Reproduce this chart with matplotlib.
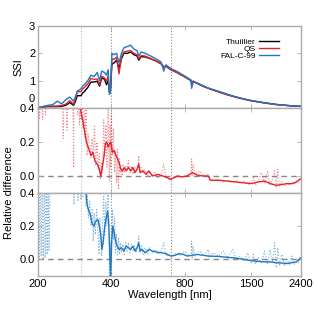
import numpy as np
import matplotlib
matplotlib.use("Agg")
import matplotlib.pyplot as plt
import matplotlib.transforms as mtransforms
from matplotlib.ticker import FixedLocator, NullLocator, FixedFormatter

plt.rcParams['font.family'] = ['Liberation Sans', 'DejaVu Sans']
plt.rcParams['font.size'] = 8

# spectra
wl_ssi = [200, 210, 220, 230, 240, 250, 260, 270, 280, 285, 290, 300, 305, 310, 320,
          330, 340, 350, 358, 365, 375, 382, 388, 393, 397, 402, 410, 420, 430, 440,
          450, 465, 480, 495, 510, 518, 530, 550, 580, 610, 640, 656, 670, 700, 750,
          800, 850, 854, 866, 900, 950, 1000, 1100, 1200, 1300, 1400, 1500, 1600, 1700,
          1800, 1900, 2000, 2100, 2200, 2300, 2400]
thuillier = [0.01, 0.03, 0.05, 0.05, 0.05, 0.06, 0.1, 0.2, 0.1, 0.25, 0.45, 0.45, 0.55, 0.6, 0.75,
             0.95, 0.95, 0.98, 0.8, 1.1, 1.05, 0.85, 1.0, 0.55, 0.7, 1.6, 1.65, 1.75, 1.45, 1.8,
             2.0, 2.0, 2.05, 1.95, 1.9, 1.75, 1.88, 1.87, 1.8, 1.72, 1.62, 1.5, 1.53, 1.42, 1.28,
             1.14, 1.0, 0.85, 0.98, 0.9, 0.8, 0.72, 0.6, 0.49, 0.4, 0.33, 0.27, 0.23, 0.19,
             0.16, 0.13, 0.11, 0.095, 0.08, 0.07, 0.06]
qs = [0.015, 0.04, 0.07, 0.07, 0.07, 0.09, 0.14, 0.27, 0.14, 0.33, 0.6, 0.6, 0.7, 0.75, 0.88,
      1.08, 1.05, 1.06, 0.85, 1.17, 1.1, 0.98, 1.18, 0.62, 0.8, 1.8, 1.78, 1.85, 1.25, 1.85,
      2.05, 2.08, 2.1, 2.0, 1.95, 1.8, 1.92, 1.9, 1.81, 1.72, 1.62, 1.52, 1.52, 1.4, 1.28,
      1.14, 1.01, 0.88, 0.98, 0.9, 0.8, 0.72, 0.585, 0.475, 0.39, 0.32, 0.26, 0.222, 0.184,
      0.153, 0.123, 0.105, 0.091, 0.077, 0.068, 0.059]
falc = [0.02, 0.06, 0.1, 0.12, 0.25, 0.15, 0.3, 0.4, 0.25, 0.42, 0.62, 0.7, 0.8, 0.85, 1.0,
        1.2, 1.15, 1.3, 1.0, 1.35, 1.3, 1.2, 1.4, 0.5, 0.6, 2.0, 1.95, 2.0, 1.65, 2.0,
        2.2, 2.25, 2.3, 2.15, 2.1, 1.9, 2.05, 2.0, 1.9, 1.8, 1.68, 1.35, 1.58, 1.45, 1.32,
        1.17, 1.02, 0.72, 0.95, 0.92, 0.82, 0.73, 0.61, 0.5, 0.4, 0.33, 0.268, 0.228, 0.187,
        0.157, 0.127, 0.108, 0.093, 0.078, 0.069, 0.06]

# relative difference QS - smoothed
wl_qs_sm = [294, 300, 305, 310, 316, 323, 330, 336, 342, 350, 355, 362, 367, 372, 378,
            383, 388, 393, 398, 404, 410, 418, 425, 432, 437, 445, 452, 460, 470, 480,
            490, 500, 510, 518, 525, 540, 555, 570, 590, 620, 650, 680, 700, 720, 750,
            780, 820, 860, 900, 950, 1000, 1020, 1100, 1200, 1300, 1400, 1500, 1600, 1700,
            1800, 1900, 2000, 2100, 2200, 2300, 2400]
qs_sm = [0.45, 0.38, 0.33, 0.27, 0.2, 0.16, 0.12, 0.14, 0.09, 0.07, 0.05, 0.0, 0.05, 0.1, 0.19,
         0.2, 0.17, 0.19, 0.2, 0.14, 0.15, 0.12, 0.1, 0.07, 0.04, 0.03, 0.05, 0.03, 0.05, 0.03,
         0.05, 0.02, 0.04, 0.07, 0.02, 0.03, 0.01, 0.03, 0.0, 0.01, 0.0, -0.01, -0.02, -0.01, 0.0,
         -0.005, 0.0, 0.02, 0.005, 0.0, 0.0, -0.025, -0.025, -0.03, -0.035, -0.04, -0.045, -0.035, -0.03,
         -0.045, -0.055, -0.05, -0.045, -0.045, -0.035, -0.015]

# relative difference QS - full resolution
wl_qs_hr = [200, 203, 206, 209, 212, 215, 220, 230, 240, 250, 254, 256, 260, 263, 266,
            270, 276, 279, 280, 281, 284, 288, 291, 294, 296, 298, 300, 303, 306, 309,
            312, 315, 318, 321, 325, 329, 333, 337, 341, 345, 349, 353, 357, 361, 364,
            368, 372, 376, 380, 384, 388, 391, 393, 395, 397, 400, 404, 408, 412, 416,
            420, 424, 428, 431, 434, 438, 442, 447, 452, 458, 464, 470, 477, 484, 491,
            498, 506, 514, 518, 522, 530, 540, 550, 562, 575, 590, 605, 620, 640, 656,
            670, 690, 710, 740, 770, 800, 830, 850, 854, 858, 866, 880, 920, 960, 1000,
            1010, 1050, 1100, 1150, 1200, 1260, 1300, 1350, 1400, 1450, 1500, 1530, 1560, 1600,
            1650, 1700, 1750, 1790, 1830, 1870, 1900, 1930, 1960, 2000, 2050, 2100, 2150, 2200,
            2250, 2300, 2350, 2400]
qs_hr = [0.5, 0.34, 0.5, 0.33, 0.5, 0.36, 0.6, 0.6, 0.55, 0.6, 0.22, 0.6, 0.55, 0.27, 0.6,
         0.5, 0.6, 0.3, 0.05, 0.5, 0.6, 0.5, 0.36, 0.5, 0.3, 0.45, 0.33, 0.4, 0.28, 0.38,
         0.22, 0.42, 0.12, 0.25, 0.18, 0.1, 0.22, 0.13, 0.3, 0.06, 0.2, 0.04, 0.14, -0.02, 0.08,
         0.02, 0.33, 0.12, 0.3, 0.05, 0.42, 0.1, -0.03, 0.3, 0.05, 0.36, 0.12, 0.28, 0.02, 0.15,
         -0.04, 0.16, -0.08, 0.1, 0.02, 0.06, 0.0, 0.07, 0.02, 0.06, 0.03, 0.09, 0.02, 0.06, 0.01,
         0.05, 0.03, 0.05, 0.12, 0.02, 0.05, 0.02, 0.04, 0.0, 0.03, 0.0, 0.02, -0.01, 0.01, 0.07,
         -0.01, -0.02, -0.015, 0.0, -0.01, 0.0, 0.01, 0.02, 0.1, 0.0, 0.07, 0.01, 0.03, 0.0, 0.01,
         -0.02, -0.03, -0.02, -0.035, -0.025, -0.04, -0.03, -0.045, -0.03, -0.05, -0.04, -0.01, -0.055, -0.03,
         0.02, -0.04, 0.03, -0.05, -0.02, 0.03, -0.07, 0.04, -0.06, -0.03, -0.06, -0.04, -0.055, -0.04,
         -0.05, -0.03, -0.04, -0.01]

# relative difference FAL-C - smoothed
wl_fal_sm = [314, 318, 322, 328, 333, 339, 345, 352, 357, 362, 366, 370, 375, 380, 386,
             390, 394, 397, 401, 405, 410, 415, 420, 430, 440, 450, 460, 470, 480, 490,
             500, 510, 518, 525, 535, 550, 570, 590, 610, 640, 670, 700, 730, 760, 790,
             820, 860, 900, 950, 1000, 1100, 1200, 1300, 1400, 1500, 1600, 1700, 1800, 1900,
             2000, 2100, 2200, 2300, 2400]
fal_sm = [0.42, 0.33, 0.3, 0.27, 0.22, 0.2, 0.23, 0.24, 0.2, 0.15, 0.06, 0.1, 0.19, 0.24, 0.29,
          0.22, 0.05, -0.12, 0.1, 0.2, 0.17, 0.12, 0.09, 0.06, 0.07, 0.05, 0.08, 0.07, 0.06, 0.08,
          0.05, 0.07, 0.1, 0.05, 0.06, 0.04, 0.06, 0.05, 0.045, 0.04, 0.035, 0.02, 0.025, 0.035, 0.03,
          0.02, 0.025, 0.03, 0.025, 0.02, 0.018, 0.012, 0.008, 0.0, -0.008, -0.012, -0.015, -0.015, -0.02,
          -0.022, -0.025, -0.02, -0.015, 0.01]

# relative difference FAL-C - full resolution
wl_fal_hr = [200, 202, 204, 206, 208, 210, 212, 214, 216, 218, 220, 222, 224, 240, 260,
             278, 281, 284, 290, 292, 295, 298, 300, 303, 306, 309, 312, 315, 318, 322,
             326, 330, 334, 337, 340, 344, 348, 352, 356, 359, 362, 365, 368, 372, 376,
             380, 384, 388, 391, 393, 395, 397, 400, 404, 408, 412, 416, 420, 424, 428,
             432, 436, 440, 446, 452, 458, 464, 470, 477, 484, 491, 498, 506, 514, 518,
             522, 530, 540, 550, 562, 575, 590, 605, 620, 640, 656, 670, 690, 710, 740,
             770, 800, 830, 850, 854, 858, 866, 880, 920, 960, 1000, 1010, 1050, 1100, 1150,
             1200, 1260, 1300, 1350, 1400, 1450, 1500, 1530, 1560, 1600, 1650, 1700, 1750, 1790,
             1830, 1870, 1900, 1930, 1960, 2000, 2050, 2100, 2150, 2200, 2250, 2300, 2350, 2400]
fal_hr = [0.5, 0.0, 0.5, 0.02, 0.5, 0.0, 0.5, 0.01, 0.5, 0.03, 0.5, 0.05, 0.6, 0.6, 0.6,
          0.6, 0.33, 0.6, 0.5, 0.35, 0.6, 0.45, 0.36, 0.5, 0.38, 0.6, 0.45, 0.32, 0.4, 0.25,
          0.35, 0.2, 0.3, 0.11, 0.28, 0.15, 0.3, 0.18, 0.03, 0.25, 0.1, 0.02, 0.2, 0.38, 0.15,
          0.35, 0.2, 0.4, 0.1, -0.15, 0.1, -0.15, 0.15, 0.3, 0.12, 0.25, 0.04, 0.15, 0.02, 0.13,
          0.03, 0.1, 0.04, 0.09, 0.03, 0.1, 0.05, 0.1, 0.04, 0.09, 0.05, 0.08, 0.04, 0.09, 0.14,
          0.04, 0.08, 0.03, 0.07, 0.03, 0.07, 0.04, 0.06, 0.03, 0.05, 0.1, 0.02, 0.03, 0.01, 0.04,
          0.02, 0.05, 0.02, 0.04, 0.11, 0.0, 0.08, 0.02, 0.05, 0.02, 0.06, 0.01, 0.04, 0.02, 0.05,
          0.01, 0.06, 0.0, 0.02, -0.01, 0.04, -0.02, 0.03, -0.03, 0.01, -0.02, 0.05, -0.03, 0.06,
          -0.02, 0.1, -0.05, 0.07, -0.04, 0.03, -0.04, 0.0, -0.03, 0.02, -0.03, -0.01, -0.02, 0.02]

vlines = [300, 400, 700]
vline_cols = ['#bbbbbb', '#888888', '#888888']
xticks = [200, 400, 800, 1500, 2400]

red = '#e8202a'
blue = '#1f78c1'
frame = '#aaaaaa'

fig = plt.figure(figsize=(3.14, 3.11), dpi=100)
W, H = 314.0, 311.0
left, right = 38 / W, 301 / W
ax1 = fig.add_axes([left, 1 - 108 / H, right - left, 82 / H])
ax2 = fig.add_axes([left, 1 - 193 / H, right - left, 85 / H])
ax3 = fig.add_axes([left, 1 - 276 / H, right - left, 83 / H])

ax1.plot(wl_ssi, thuillier, color='k', lw=1.0, label='Thuillier')
ax1.plot(wl_ssi, qs, color=red, lw=1.0, label='QS')
ax1.plot(wl_ssi, falc, color=blue, lw=1.0, label='FAL-C-99')
ax1.set_ylim(0, 3)
ax1.set_yticks([0, 1, 2, 3])
ax1.set_ylabel('SSI', labelpad=4)
leg = ax1.legend(loc='upper right', bbox_to_anchor=(0.94, 0.92), frameon=False,
                 markerfirst=False, fontsize=6, handlelength=2.4, labelspacing=-0.1,
                 handletextpad=0.4, borderpad=0.2)

ax2.plot(wl_qs_hr, qs_hr, color=red, lw=0.8, ls=':', alpha=0.55)
ax2.plot(wl_qs_sm, qs_sm, color=red, lw=1.0)
ax3.plot(wl_fal_hr, fal_hr, color=blue, lw=0.8, ls=':', alpha=0.6)
ax3.plot(wl_fal_sm, fal_sm, color=blue, lw=1.0)

for ax in (ax2, ax3):
    ax.set_ylim(-0.1, 0.4)
    ax.set_yticks([0.0, 0.2, 0.4])
    ax.set_yticklabels(['0.0', '0.2', '0.4'])
    ax.axhline(0, color='#888888', lw=1.0, ls=(0, (4, 3)), zorder=1)

for ax in (ax1, ax2, ax3):
    ax.set_xscale('log')
    ax.set_xlim(200, 2400)
    ax.xaxis.set_major_locator(FixedLocator(xticks))
    ax.xaxis.set_minor_locator(NullLocator())
    ax.xaxis.set_major_formatter(FixedFormatter([str(t) for t in xticks]))
    for v, c in zip(vlines, vline_cols):
        ax.axvline(v, color=c, lw=0.8, ls=':', zorder=0)
    for s in ax.spines.values():
        s.set_color(frame)
        s.set_linewidth(1.0)
    ax.tick_params(direction='in', top=True, right=True, length=3, width=0.6,
                   color=frame, labelsize=8, pad=2)
    if ax is not ax3:
        ax.tick_params(labelbottom=False)

# top panel "0" sits just above the "0.4" of the panel below
fig.canvas.draw()
up = mtransforms.ScaledTranslation(0, 3 / 72, fig.dpi_scale_trans)
lab0 = ax1.get_yticklabels()[0]
lab0.set_transform(lab0.get_transform() + up)
lab0.set_va('bottom')
for ax in (ax2, ax3):
    lab4 = ax.get_yticklabels()[-1]
    lab4.set_va('top')
    lab4.set_transform(lab4.get_transform() + mtransforms.ScaledTranslation(0, 3 / 72, fig.dpi_scale_trans))

ax3.set_xlabel('Wavelength [nm]', labelpad=1)
fig.text(0.03, (1 - 193 / H), 'Relative difference', rotation=90, ha='center',
         va='center', fontsize=8)

fig.savefig('out.png', dpi=100)
